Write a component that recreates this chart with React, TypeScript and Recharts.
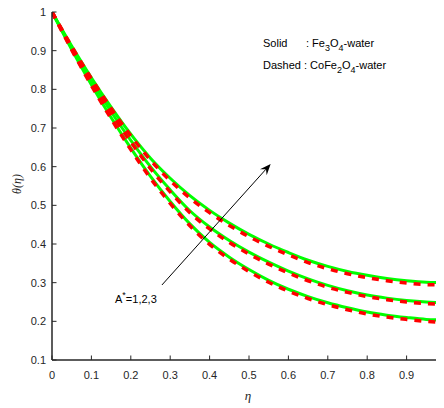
import React from 'react';
import { LineChart, Line, XAxis, YAxis, ReferenceLine } from 'recharts';

// η grid
const eta = [0, 0.05, 0.1, 0.15, 0.2, 0.25, 0.3, 0.35, 0.4, 0.45, 0.5, 0.55, 0.6, 0.65, 0.7, 0.75, 0.8, 0.85, 0.9, 0.95, 1.0];

// Solid: Fe3O4-water, A* = 1, 2, 3
const solidA1 = [1, 0.903, 0.812, 0.727, 0.648, 0.575, 0.510, 0.452, 0.404, 0.366, 0.334, 0.306, 0.283, 0.264, 0.248, 0.235, 0.224, 0.216, 0.210, 0.205, 0.203];
const solidA2 = [1, 0.908, 0.822, 0.742, 0.668, 0.600, 0.540, 0.486, 0.444, 0.409, 0.379, 0.353, 0.330, 0.310, 0.293, 0.279, 0.268, 0.260, 0.254, 0.250, 0.248];
const solidA3 = [1, 0.912, 0.830, 0.754, 0.684, 0.622, 0.570, 0.525, 0.487, 0.454, 0.425, 0.400, 0.378, 0.358, 0.342, 0.329, 0.319, 0.311, 0.305, 0.301, 0.300];

// Dashed: CoFe2O4-water, A* = 1, 2, 3
const dashA1 = [1, 0.902, 0.810, 0.724, 0.644, 0.570, 0.505, 0.447, 0.399, 0.361, 0.329, 0.301, 0.278, 0.259, 0.243, 0.230, 0.219, 0.211, 0.205, 0.200, 0.197];
const dashA2 = [1, 0.907, 0.820, 0.739, 0.664, 0.595, 0.535, 0.481, 0.439, 0.404, 0.374, 0.348, 0.325, 0.305, 0.288, 0.275, 0.264, 0.256, 0.250, 0.246, 0.244];
const dashA3 = [1, 0.911, 0.828, 0.751, 0.680, 0.617, 0.564, 0.519, 0.481, 0.448, 0.419, 0.394, 0.372, 0.352, 0.336, 0.323, 0.313, 0.305, 0.299, 0.295, 0.294];

const xTicks = [0, 0.1, 0.2, 0.3, 0.4, 0.5, 0.6, 0.7, 0.8, 0.9, 1];
const yTicks = [0.1, 0.2, 0.3, 0.4, 0.5, 0.6, 0.7, 0.8, 0.9, 1];

// annotation arrow (data coordinates)
const arrowStart = { x: 0.279, y: 0.294 };
const arrowEnd = { x: 0.555, y: 0.607 };

const data = eta.map((e, i) => ({
  eta: e,
  s1: solidA1[i],
  s2: solidA2[i],
  s3: solidA3[i],
  d1: dashA1[i],
  d2: dashA2[i],
  d3: dashA3[i],
}));

const AX = '#262626';
const TICK_FONT = '"Liberation Sans", Arial, sans-serif';
const TL = 4.5;

const fmt = (v: number) => String(Math.round(v * 10) / 10);

const BottomTick = (p: any) => (
  <g>
    <line x1={p.x} x2={p.x} y1={p.y} y2={p.y - TL} stroke={AX} strokeWidth={1} />
    <text x={p.x} y={p.y + 19} textAnchor="middle" fontFamily={TICK_FONT} fontSize={11} fill={AX}>
      {fmt(p.payload.value)}
    </text>
  </g>
);
const TopTick = (p: any) => (
  <line x1={p.x} x2={p.x} y1={p.y} y2={p.y + TL} stroke={AX} strokeWidth={1} />
);
const LeftTick = (p: any) => (
  <g>
    <line x1={p.x} x2={p.x + TL} y1={p.y} y2={p.y} stroke={AX} strokeWidth={1} />
    <text x={p.x - 6} y={p.y + 4} textAnchor="end" fontFamily={TICK_FONT} fontSize={11} fill={AX}>
      {fmt(p.payload.value)}
    </text>
  </g>
);
const RightTick = (p: any) => (
  <line x1={p.x} x2={p.x - TL} y1={p.y} y2={p.y} stroke={AX} strokeWidth={1} />
);

const ArrowShape = (p: any) => {
  const { x1, y1, x2, y2 } = p;
  const dx = x2 - x1;
  const dy = y2 - y1;
  const len = Math.sqrt(dx * dx + dy * dy);
  const ux = dx / len;
  const uy = dy / len;
  const nx = -uy;
  const ny = ux;
  const L = 11;
  const W = 4.5;
  const N = 7;
  const pts = [
    [x2, y2],
    [x2 - ux * L + nx * W, y2 - uy * L + ny * W],
    [x2 - ux * N, y2 - uy * N],
    [x2 - ux * L - nx * W, y2 - uy * L - ny * W],
  ]
    .map((q) => q.join(','))
    .join(' ');
  return (
    <g>
      <line x1={x1} y1={y1} x2={x2 - ux * N} y2={y2 - uy * N} stroke="#000" strokeWidth={1} />
      <polygon points={pts} fill="#000" />
    </g>
  );
};

const GREEN = '#00ff00';
const RED = '#ff0000';

export default function App() {
  const serif = '"Liberation Serif", "Times New Roman", serif';
  return (
    <div style={{ position: 'relative', width: 436, height: 408, marginTop: -8, overflow: 'hidden' }}>
      <LineChart
        width={460}
        height={408}
        data={data}
        margin={{ top: 12, right: 22, bottom: 18, left: 0 }}
      >
        <XAxis
          dataKey="eta"
          type="number"
          domain={[0, 1]}
          ticks={xTicks}
          interval={0}
          height={30}
          tickSize={0}
          tickMargin={0}
          tickLine={false}
          axisLine={{ stroke: AX, strokeWidth: 1.5 }}
          tick={BottomTick}
          allowDataOverflow
        />
        <XAxis
          xAxisId="top"
          orientation="top"
          type="number"
          dataKey="eta"
          domain={[0, 1]}
          ticks={xTicks}
          interval={0}
          height={0}
          tickSize={0}
          tickMargin={0}
          tickLine={false}
          axisLine={{ stroke: AX, strokeWidth: 1.5 }}
          tick={TopTick}
          allowDataOverflow
        />
        <YAxis
          type="number"
          domain={[0.1, 1]}
          ticks={yTicks}
          interval={0}
          width={44}
          tickSize={0}
          tickMargin={0}
          tickLine={false}
          axisLine={{ stroke: AX, strokeWidth: 1.5 }}
          tick={LeftTick}
          allowDataOverflow
        />
        <YAxis
          yAxisId="right"
          orientation="right"
          type="number"
          domain={[0.1, 1]}
          ticks={yTicks}
          interval={0}
          width={0}
          tickSize={0}
          tickMargin={0}
          tickLine={false}
          axisLine={{ stroke: AX, strokeWidth: 1.5 }}
          tick={RightTick}
          allowDataOverflow
        />
        <Line dataKey="s1" type="monotone" stroke={GREEN} strokeWidth={3} dot={false} isAnimationActive={false} />
        <Line dataKey="s2" type="monotone" stroke={GREEN} strokeWidth={3} dot={false} isAnimationActive={false} />
        <Line dataKey="s3" type="monotone" stroke={GREEN} strokeWidth={3} dot={false} isAnimationActive={false} />
        <Line dataKey="d1" type="monotone" stroke={RED} strokeWidth={3.5} strokeDasharray="7 7" dot={false} isAnimationActive={false} />
        <Line dataKey="d2" type="monotone" stroke={RED} strokeWidth={3.5} strokeDasharray="7 7" dot={false} isAnimationActive={false} />
        <Line dataKey="d3" type="monotone" stroke={RED} strokeWidth={3.5} strokeDasharray="7 7" dot={false} isAnimationActive={false} />
        <ReferenceLine
          segment={[arrowStart, arrowEnd]}
          stroke="#000"
          ifOverflow="visible"
          shape={ArrowShape}
        />
      </LineChart>
      <svg
        width={436}
        height={408}
        style={{ position: 'absolute', left: 0, top: 0, pointerEvents: 'none' }}
      >
        <g fontFamily={TICK_FONT} fontSize={11} fill="#000">
          <text x={255} y={47}>Solid</text>
          <text x={298} y={47}>
            : Fe<tspan fontSize={9} dy={4}>3</tspan>
            <tspan dy={-4}>O</tspan>
            <tspan fontSize={9} dy={4}>4</tspan>
            <tspan dy={-4}>-water</tspan>
          </text>
          <text x={255} y={69}>
            Dashed : CoFe<tspan fontSize={9} dy={4}>2</tspan>
            <tspan dy={-4}>O</tspan>
            <tspan fontSize={9} dy={4}>4</tspan>
            <tspan dy={-4}>-water</tspan>
          </text>
          <text x={107} y={303}>
            A<tspan fontSize={9} dy={-5}>*</tspan>
            <tspan dy={5}>=1,2,3</tspan>
          </text>
        </g>
        <text x={240} y={400} textAnchor="middle" fontFamily={serif} fontStyle="italic" fontSize={13} fill={AX}>
          η
        </text>
        <text
          x={0}
          y={0}
          transform="translate(13,184) rotate(-90)"
          textAnchor="middle"
          fontFamily={serif}
          fontStyle="italic"
          fontSize={12}
          fill={AX}
        >
          θ(η)
        </text>
      </svg>
    </div>
  );
}
